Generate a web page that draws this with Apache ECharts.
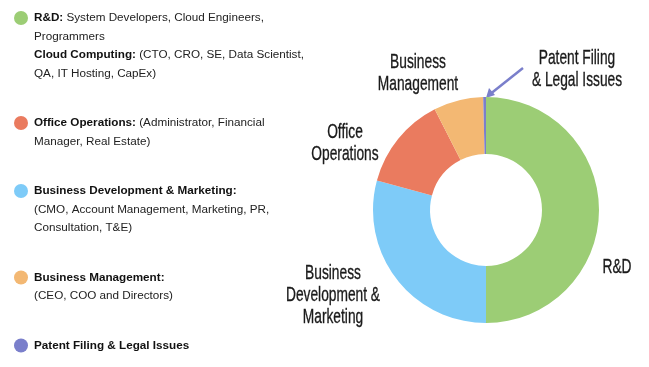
<!DOCTYPE html>
<html><head><meta charset="utf-8">
<script src="https://cdn.jsdelivr.net/npm/echarts@6/dist/echarts.min.js"></script>
<style>html,body{margin:0;padding:0;background:#fff}#c{width:649px;height:367px}</style>
</head><body><div id="c"></div>
<script>
var categories = ['R&D', 'Business Development & Marketing', 'Office Operations', 'Business Management', 'Patent Filing & Legal Issues'];
var values = [50, 29.2, 13.3, 7.1, 0.4];
var sliceLabels = ['R&D', 'Business\nDevelopment &\nMarketing', 'Office\nOperations', 'Business\nManagement', 'Patent Filing\n& Legal Issues'];
var colors = ['#9ccd75', '#7ecbf8', '#ea7b5f', '#f3b873', '#7a7fcb'];
var legendOrder = ['R&D', 'Office Operations', 'Business Development & Marketing', 'Business Management', 'Patent Filing & Legal Issues'];
var legendTexts = {
  'R&D': [['R&D:', ' System Developers, Cloud Engineers,'], ['', 'Programmers'], ['Cloud Computing:', ' (CTO, CRO, SE, Data Scientist,'], ['', 'QA, IT Hosting, CapEx)']],
  'Office Operations': [['Office Operations:', ' (Administrator, Financial'], ['', 'Manager, Real Estate)']],
  'Business Development & Marketing': [['Business Development & Marketing:', ''], ['', '(CMO, Account Management, Marketing, PR,'], ['', 'Consultation, T&E)']],
  'Business Management': [['Business Management:', ''], ['', '(CEO, COO and Directors)']],
  'Patent Filing & Legal Issues': [['Patent Filing & Legal Issues', '']]
};
// label placement (pixel centers) for the slice labels
var labelPos = [[617, 267], [333, 295], [345, 143], [418, 73], [577, 69]];

var LH = 18.5;
var rich = {
  b: {fontWeight: 'bold', fontSize: 11.7, color: '#111', lineHeight: LH, fontFamily: 'Liberation Sans, Arial'},
  n: {fontSize: 11.7, color: '#222', lineHeight: LH, fontFamily: 'Liberation Sans, Arial'},
  ind: {width: 20, lineHeight: LH}
};
categories.forEach(function (c, i) {
  rich['dot' + i] = {width: 14, height: 14, borderRadius: 7, backgroundColor: colors[i], lineHeight: LH};
  rich['gap' + i] = {width: 6, lineHeight: LH};
});

var graphics = sliceLabels.map(function (t, i) {
  return {
    type: 'text', x: labelPos[i][0], y: labelPos[i][1], scaleX: 0.655, silent: true,
    style: {
      text: t, fill: '#1a1a1a', stroke: '#1a1a1a', lineWidth: 0.35, align: 'center', verticalAlign: 'middle',
      fontSize: 21, lineHeight: 22, fontFamily: 'Liberation Sans, Arial, sans-serif'
    }
  };
});
graphics.push(
  {type: 'line', shape: {x1: 523, y1: 68, x2: 489, y2: 95}, style: {stroke: '#7a7fcb', lineWidth: 2.5}},
  {type: 'polygon', shape: {points: [[486, 98], [489, 88], [495, 95]]}, style: {fill: '#7a7fcb'}}
);

var chart = echarts.init(document.getElementById('c'), null, {renderer: 'canvas'});
chart.setOption({
  animation: false,
  color: colors,
  legend: {
    orient: 'vertical', left: 9, top: 11, padding: 0, itemGap: 36.5, icon: 'none', itemWidth: 0, itemHeight: 0,
    selectedMode: false,
    data: legendOrder,
    formatter: function (name) {
      var idx = categories.indexOf(name);
      return legendTexts[name].map(function (ln, k) {
        var head = k === 0 ? '{dot' + idx + '|}{gap' + idx + '|}' : '{ind|}';
        var s = head;
        if (ln[0]) s += '{b|' + ln[0] + '}';
        if (ln[1]) s += '{n|' + ln[1] + '}';
        return s;
      }).join('\n');
    },
    textStyle: {rich: rich}
  },
  series: [{
    type: 'pie',
    center: [486, 210],
    radius: [56, 113],
    startAngle: 90,
    clockwise: true,
    label: {show: false},
    labelLine: {show: false},
    itemStyle: {borderWidth: 0},
    emphasis: {disabled: true},
    data: categories.map(function (c, i) { return {name: c, value: values[i]}; })
  }],
  graphic: graphics
});
</script></body></html>
